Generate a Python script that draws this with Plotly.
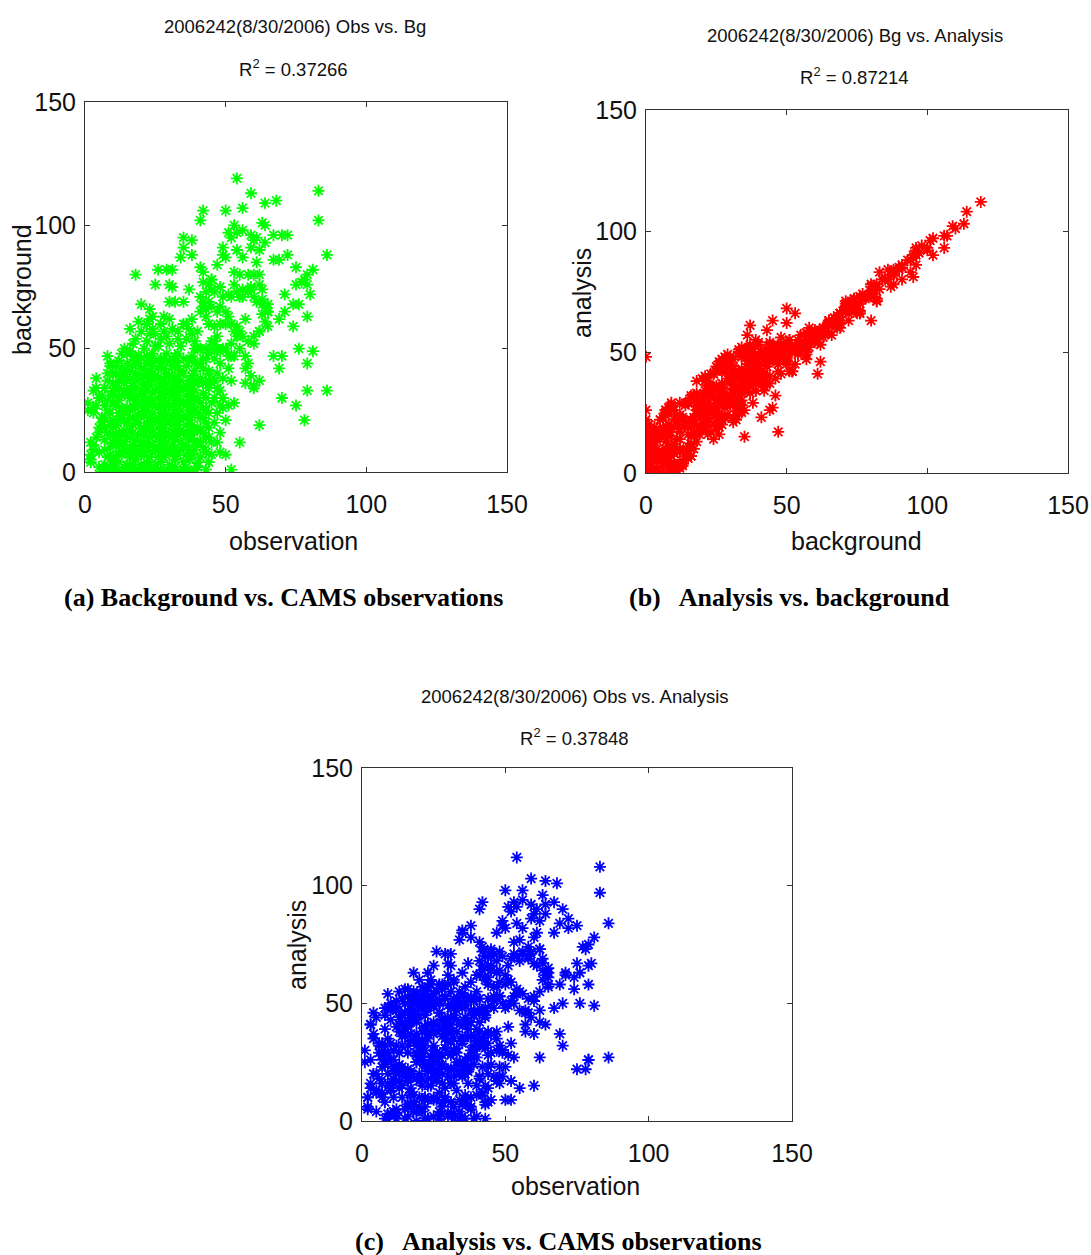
import plotly.graph_objects as go

# ---------------------------------------------------------------
# Station values for 2006242 (8/30/2006): CAMS observation,
# model background and analysis, one entry per station.
# ---------------------------------------------------------------

# high-concentration tail
obs_tail = [
    54, 83, 83, 59, 64, 68, 56, 50, 42, 41,
    63, 64, 53, 56, 54, 59, 61, 60, 67, 70,
    72, 51, 52, 35, 38, 35, 34, 38, 86, 59,
    62, 64, 49, 49, 54, 56, 67, 69, 72, 61,
    47, 50, 18, 26, 29, 31, 41, 42, 75, 81,
    79, 78, 77, 25, 30, 31, 37, 45, 45, 53,
    55, 58, 60, 62, 53, 56, 58, 59, 62, 63,
    80, 79, 75, 71, 63, 65, 65, 74, 76, 79,
    71, 69, 74, 20, 23, 30, 32, 28, 30, 35,
    19, 16, 20, 23, 35, 37, 36, 33, 38, 36,
]
bg_tail = [
    119, 114, 102, 113, 109, 110, 107, 106, 106, 102,
    101, 100, 100, 98, 97, 96, 95, 94, 96, 96,
    96, 97, 95, 95, 94, 91, 87, 88, 88, 91,
    90, 93, 91, 88, 90, 87, 86, 86, 88, 85,
    84, 87, 80, 82, 82, 82, 83, 81, 83, 82,
    80, 78, 77, 76, 76, 75, 74, 78, 74, 81,
    80, 80, 80, 80, 76, 74, 73, 75, 76, 74,
    72, 76, 76, 72, 68, 65, 65, 68, 68, 63,
    65, 62, 59, 68, 66, 69, 69, 63, 62, 69,
    61, 58, 57, 62, 60, 58, 60, 57, 56, 54,
]
ana_tail = [
    112, 108, 97, 103, 102, 101, 98, 98, 93, 90,
    96, 92, 93, 94, 91, 92, 90, 88, 93, 90,
    86, 91, 89, 81, 83, 80, 77, 78, 84, 86,
    85, 88, 85, 83, 84, 82, 80, 84, 82, 80,
    80, 82, 63, 72, 71, 71, 76, 74, 83, 78,
    75, 73, 74, 66, 67, 66, 67, 72, 70, 76,
    77, 74, 78, 73, 71, 72, 70, 71, 73, 69,
    67, 66, 67, 63, 64, 61, 58, 61, 63, 58,
    62, 58, 56, 60, 57, 62, 60, 56, 58, 63,
    54, 56, 49, 53, 54, 52, 57, 50, 52, 49,
]

# mid-range stations and stray low readings
obs_mid = [
    42, 43, 41, 42, 42, 41, 44, 45, 46, 48,
    49, 51, 52, 54, 55, 56, 58, 59, 60, 61,
    63, 65, 64, 63, 65, 65, 62, 60, 60, 58,
    56, 55, 54, 52, 51, 50, 48, 47, 45, 44,
    43, 43, 44, 46, 48, 50, 53, 54, 52, 50,
    49, 47, 45, 43, 41, 51, 53, 55, 57, 58,
    57, 59, 60, 62, 57, 79, 86, 70, 75, 78,
    79, 81, 76, 67, 70, 69, 62, 55, 50, 53,
    51, 48, 48, 47, 52, 51, 43, 45, 48, 50,
    52, 43, 39, 34, 28, 22, 15, 11, 8, 19,
]
bg_mid = [
    77, 73, 71, 69, 67, 65, 76, 78, 73, 75,
    71, 72, 71, 73, 71, 71, 73, 74, 71, 69,
    70, 68, 67, 64, 65, 59, 57, 55, 52, 53,
    55, 57, 59, 60, 63, 65, 67, 65, 67, 69,
    66, 63, 60, 59, 60, 60, 57, 55, 52, 50,
    50, 50, 50, 50, 50, 47, 47, 50, 47, 44,
    42, 39, 34, 37, 36, 33, 33, 30, 27, 21,
    44, 49, 50, 47, 47, 42, 19, 12, 21, 28,
    27, 27, 33, 34, 37, 42, 8, 7, 8, 7,
    1, 1, 1, 0, 0, 0, 1, 0, 0, 1,
]
ana_mid = [
    72, 70, 68, 66, 64, 62, 70, 73, 71, 72,
    70, 66, 69, 70, 68, 71, 69, 72, 67, 66,
    67, 65, 62, 60, 63, 57, 55, 53, 51, 52,
    54, 55, 56, 59, 60, 62, 64, 63, 64, 66,
    61, 60, 58, 57, 59, 58, 53, 54, 51, 48,
    50, 52, 49, 48, 46, 49, 50, 47, 47, 46,
    41, 44, 37, 42, 38, 26, 27, 32, 22, 22,
    26, 49, 50, 48, 50, 37, 27, 14, 23, 27,
    28, 23, 32, 30, 33, 40, 15, 9, 16, 9,
    9, 8, 1, 1, 6, 1, 1, 4, 1, 0,
]

# low observations (0-10) and zero-background stations
obs_edge = [
    1, 1, 2, 3, 2, 4, 3, 9, 11, 15,
    6, 13, 17, 24, 31, 36, 26, 20, 10, 30,
    2, 3, 4, 5, 6, 3, 5, 4, 6, 2,
    4, 5, 3, 6, 5,
    7, 8, 9, 7, 8, 9, 7, 8, 10, 9,
    7, 8, 10, 9, 8, 10, 10, 9, 10, 8,
    7, 9, 10, 7, 10, 9, 7, 10, 8, 9,
]
bg_edge = [
    28, 25, 4, 11, 7, 38, 33, 44, 40, 48,
    0, 0, 0, 0, 1, 0, 1, 0, 1, 0,
    5, 9, 14, 18, 22, 26, 30, 34, 20, 12,
    27, 16, 24, 31, 8,
    3, 6, 10, 13, 16, 19, 22, 25, 28, 31,
    34, 37, 40, 43, 47, 5, 12, 15, 21, 29,
    18, 24, 33, 9, 36, 2, 27, 18, 40, 7,
]
ana_edge = [
    30, 25, 10, 14, 5, 46, 41, 54, 49, 56,
    18, 22, 12, 26, 16, 8, 20, 48, 14, 3,
    6, 26, 20, 13, 33, 16, 44, 37, 29, 10,
    35, 12, 41, 32, 20,
    16, 8, 3, 23, 32, 16, 29, 24, 48, 35,
    28, 48, 43, 48, 45, 14, 3, 29, 26, 29,
    26, 20, 50, 10, 48, 1, 33, 33, 39, 26,
]

# stations with near-zero background
obs_floor = [7, 12, 14, 18, 21, 23, 27, 29, 32, 35, 38, 40, 44, 16, 25, 5, 10]
bg_floor = [1, 0, 2, 1, 0, 3, 1, 0, 2, 1, 0, 2, 4, 3, 0, 2, 3]
ana_floor = [12, 3, 15, 7, 18, 9, 2, 14, 6, 20, 5, 11, 8, 17, 10, 4, 13]

# bulk of the network, observations 10-20
obs_core_a = [
    11, 12, 13, 14, 11, 12, 13, 14, 11, 12,
    13, 14, 11, 12, 13, 14, 11, 12, 13, 14,
    11, 12, 13, 14, 15, 15, 15, 15, 15, 15,
    15, 15, 12, 13, 14, 11, 12, 13, 14, 11,
    12, 13, 14, 11, 12,
    16, 17, 18, 19, 16, 17, 18, 19, 16, 17,
    18, 19, 16, 17, 18, 19, 16, 17, 18, 19,
    16, 17, 18, 19, 16, 17, 18, 20, 20, 20,
    20, 20, 20, 20, 20, 20, 20, 16, 17, 18,
    19, 16, 17, 18, 19, 16, 17, 18, 19, 16,
    17, 18, 19, 16, 17,
]
bg_core_a = [
    2, 4, 7, 9, 11, 13, 15, 17, 19, 21,
    23, 25, 27, 29, 31, 33, 35, 37, 39, 41,
    43, 45, 48, 50, 3, 8, 14, 20, 26, 32,
    38, 44, 16, 26, 12, 31, 34, 11, 36, 6,
    24, 42, 21, 15, 8,
    1, 3, 5, 7, 9, 11, 13, 15, 17, 19,
    21, 23, 25, 27, 29, 31, 33, 35, 37, 39,
    41, 43, 45, 47, 49, 52, 54, 3, 8, 12,
    18, 24, 28, 33, 38, 42, 46, 14, 22, 26,
    10, 30, 8, 34, 20, 38, 16, 40, 27, 6,
    31, 9, 44, 22, 47,
]
ana_core_a = [
    10, 1, 24, 10, 23, 5, 21, 32, 18, 40,
    17, 36, 30, 47, 29, 42, 26, 51, 44, 41,
    48, 47, 41, 52, 19, 5, 21, 19, 46, 36,
    39, 50, 22, 21, 23, 21, 48, 14, 45, 4,
    32, 38, 38, 16, 20,
    2, 14, 8, 25, 7, 20, 4, 29, 22, 19,
    34, 25, 18, 37, 45, 28, 40, 34, 47, 43,
    42, 49, 51, 42, 53, 42, 55, 6, 17, 10,
    26, 20, 45, 34, 50, 34, 52, 29, 21, 45,
    4, 41, 11, 52, 18, 47, 7, 54, 32, 6,
    44, 11, 37, 32, 52,
]

# bulk of the network, observations 20-30
obs_core_b = [
    21, 22, 23, 24, 21, 22, 23, 24, 21, 22,
    23, 24, 21, 22, 23, 24, 21, 22, 23, 24,
    21, 22, 23, 24, 21, 22, 23, 24, 25, 25,
    25, 25, 25, 25, 25, 25, 25, 21, 22, 23,
    24, 21, 22, 23, 24, 21, 22, 23, 24, 21,
    22, 23, 24, 21, 22, 23, 24, 21, 22, 23,
    26, 27, 28, 29, 26, 27, 28, 29, 26, 27,
    28, 29, 26, 27, 28, 29, 26, 27, 28, 29,
    26, 27, 28, 29, 26, 27, 28, 30, 30, 30,
    30, 30, 30, 30, 30, 30, 26, 27, 28, 29,
    26, 27, 28, 29, 26, 27, 28, 29, 26, 27,
    28, 29, 26, 27, 28,
]
bg_core_b = [
    2, 4, 6, 8, 10, 12, 14, 16, 18, 20,
    22, 24, 26, 28, 30, 32, 34, 36, 38, 40,
    42, 44, 46, 48, 50, 53, 56, 58, 3, 9,
    15, 21, 27, 33, 39, 45, 51, 15, 25, 35,
    11, 31, 17, 27, 37, 7, 33, 19, 29, 23,
    9, 41, 21, 39, 47, 11, 43, 28, 39, 17,
    1, 4, 6, 8, 10, 12, 14, 16, 18, 20,
    22, 24, 26, 28, 30, 32, 34, 36, 38, 40,
    42, 44, 46, 48, 51, 54, 57, 3, 9, 15,
    21, 27, 33, 39, 45, 52, 14, 24, 34, 12,
    30, 16, 26, 36, 6, 32, 18, 28, 22, 8,
    42, 20, 38, 46, 10,
]
ana_core_b = [
    15, 6, 1, 18, 26, 9, 21, 15, 38, 24,
    23, 41, 32, 23, 41, 22, 48, 39, 47, 38,
    50, 40, 52, 49, 54, 45, 57, 60, 2, 28,
    9, 32, 30, 51, 37, 49, 42, 29, 30, 35,
    24, 33, 10, 37, 53, 4, 40, 18, 49, 27,
    10, 50, 27, 34, 52, 1, 49, 31, 48, 15,
    9, 1, 23, 9, 22, 4, 20, 31, 17, 39,
    16, 35, 29, 46, 28, 41, 25, 50, 43, 40,
    50, 46, 39, 53, 55, 51, 58, 2, 29, 19,
    22, 44, 39, 34, 49, 42, 28, 27, 43, 10,
    38, 12, 43, 37, 18, 24, 24, 43, 21, 27,
    36, 31, 41, 51, 8,
]

# bulk of the network, observations 30-50
obs_core_c = [
    31, 32, 33, 34, 31, 32, 33, 34, 31, 32,
    33, 34, 31, 32, 33, 34, 31, 32, 33, 34,
    31, 32, 33, 34, 35, 35, 35, 35, 35, 35,
    35, 35, 31, 32, 33, 34, 31, 32, 33, 34,
    31, 32, 33, 34, 31, 32, 33, 34, 31, 32,
    36, 37, 38, 39, 36, 37, 38, 39, 36, 37,
    38, 39, 36, 37, 38, 39, 36, 37, 38, 39,
    36, 37, 38, 39, 40, 40, 40, 40, 40, 40,
    40, 36, 37, 38, 39, 36, 37, 38, 39, 36,
    37, 38, 39, 36, 37,
    41, 42, 43, 44, 41, 42, 43, 44, 41, 42,
    43, 44, 41, 42, 43, 44, 41, 42, 43, 44,
    41, 45, 45, 45, 42, 43, 44, 41, 42, 43,
    46, 47, 48, 46, 47, 48, 49, 46, 47, 49,
    46, 48, 49, 47, 46,
]
bg_core_c = [
    2, 5, 7, 9, 11, 13, 15, 17, 19, 21,
    23, 25, 27, 29, 31, 33, 35, 37, 39, 41,
    43, 45, 48, 51, 4, 10, 16, 22, 28, 34,
    40, 46, 15, 25, 35, 12, 31, 17, 27, 37,
    7, 33, 19, 29, 23, 9, 43, 21, 39, 47,
    2, 5, 7, 9, 11, 13, 15, 17, 19, 21,
    23, 25, 27, 29, 31, 33, 35, 37, 39, 41,
    43, 45, 47, 50, 4, 12, 18, 24, 30, 36,
    44, 15, 25, 35, 12, 31, 17, 27, 37, 7,
    33, 19, 29, 23, 9,
    6, 10, 14, 18, 22, 26, 30, 34, 38, 42,
    46, 48, 12, 16, 20, 24, 28, 32, 36, 40,
    44, 28, 12, 36, 22, 8, 14, 17, 36, 25,
    20, 24, 16, 30, 40, 44, 38, 46, 12, 30,
    37, 49, 26, 55, 53,
]
ana_core_c = [
    3, 22, 13, 4, 22, 3, 29, 20, 28, 19,
    31, 21, 44, 30, 43, 25, 41, 52, 38, 50,
    37, 49, 51, 55, 2, 19, 7, 36, 33, 34,
    53, 48, 8, 35, 51, 9, 38, 16, 47, 41,
    8, 50, 25, 24, 34, 1, 49, 24, 48, 45,
    1, 16, 10, 27, 9, 22, 6, 31, 24, 21,
    36, 27, 20, 39, 47, 30, 42, 36, 47, 45,
    44, 51, 53, 45, 15, 2, 32, 27, 39, 34,
    52, 11, 42, 36, 24, 23, 23, 42, 36, 26,
    27, 30, 32, 41, 7,
    19, 12, 7, 28, 38, 23, 37, 33, 48, 46,
    47, 52, 18, 11, 31, 14, 42, 35, 45, 38,
    52, 24, 29, 37, 34, 1, 20, 32, 35, 44,
    19, 35, 19, 48, 38, 53, 29, 51, 17, 30,
    37, 53, 19, 57, 53,
]

# remaining stations
obs_extra = [
    25, 27, 29, 31, 33, 22, 24, 38, 40, 39,
    60, 42, 38, 44, 52, 44, 21, 13, 23, 32,
    47, 45, 40, 64, 57, 62,
]
bg_extra = [
    56, 60, 55, 58, 54, 60, 63, 62, 57, 53,
    35, 46, 45, 41, 47, 37, 36, 39, 45, 43,
    50, 53, 50, 61, 62, 57,
]
ana_extra = [
    54, 58, 52, 55, 50, 55, 58, 59, 55, 51,
    15, 32, 27, 23, 17, 61, 57, 55, 63, 59,
    68, 66, 62, 41, 46, 47,
]

observation = (obs_tail + obs_mid + obs_edge + obs_floor + obs_core_a
               + obs_core_b + obs_core_c + obs_extra)
background = (bg_tail + bg_mid + bg_edge + bg_floor + bg_core_a
              + bg_core_b + bg_core_c + bg_extra)
analysis = (ana_tail + ana_mid + ana_edge + ana_floor + ana_core_a
            + ana_core_b + ana_core_c + ana_extra)
assert len(observation) == len(background) == len(analysis), (
    len(observation), len(background), len(analysis))

AXIS_TICKS = [0, 50, 100, 150]
R2_VALUES = ["0.37266", "0.87214", "0.37848"]

# ---------------------------------------------------------------
# layout helpers (pixel positions on a 1091 x 1255 page)
# ---------------------------------------------------------------
W, H = 1091, 1255
SANS = "Liberation Sans, Arial, Helvetica, sans-serif"
SERIF = "Liberation Serif, Times New Roman, serif"


def fx(p):
    return p / W


def fy(p):
    return 1 - p / H


panels = [
    dict(x=observation, y=background, color="#00ff00",
         xpx=(85, 507), ypx=(102, 472),
         xlabel="observation", ylabel="background",
         xlab_pos=(293, 541), ylab_pos=(22, 290),
         title="2006242(8/30/2006) Obs vs. Bg", r2=R2_VALUES[0],
         title_pos=(295, 26), r2_pos=(293, 68)),
    dict(x=background, y=analysis, color="#ff0000",
         xpx=(646, 1068), ypx=(110, 473),
         xlabel="background", ylabel="analysis",
         xlab_pos=(856, 541), ylab_pos=(582, 293),
         title="2006242(8/30/2006) Bg vs. Analysis", r2=R2_VALUES[1],
         title_pos=(855, 36), r2_pos=(854, 76)),
    dict(x=observation, y=analysis, color="#0000ff",
         xpx=(362, 792), ypx=(768, 1121),
         xlabel="observation", ylabel="analysis",
         xlab_pos=(575, 1186), ylab_pos=(297, 945),
         title="2006242(8/30/2006) Obs vs. Analysis", r2=R2_VALUES[2],
         title_pos=(575, 696), r2_pos=(574, 737)),
]

captions = [
    ("(a) Background vs. CAMS observations", 283, 597),
    ("(b)\u00a0\u00a0 Analysis vs. background", 789, 597),
    ("(c)\u00a0\u00a0 Analysis vs. CAMS observations", 558, 1241),
]

fig = go.Figure()
annotations = []
layout_axes = {}

for i, p in enumerate(panels, start=1):
    xa = "x" if i == 1 else f"x{i}"
    ya = "y" if i == 1 else f"y{i}"
    fig.add_trace(go.Scatter(
        x=p["x"], y=p["y"], mode="markers", xaxis=xa, yaxis=ya,
        showlegend=False, hoverinfo="skip",
        marker=dict(symbol="asterisk-open", size=10, color=p["color"],
                    line=dict(color=p["color"], width=1.8)),
    ))

    common = dict(
        range=[0, 150], tickmode="array", tickvals=AXIS_TICKS,
        ticktext=[str(t) for t in AXIS_TICKS],
        ticks="inside", ticklen=5, tickwidth=1, tickcolor="#333",
        showline=True, linecolor="#333", linewidth=1, mirror="ticks",
        showgrid=False, zeroline=False, fixedrange=True, automargin=False,
        tickfont=dict(family=SANS, size=25, color="#111"),
    )
    layout_axes["xaxis" if i == 1 else f"xaxis{i}"] = dict(
        common, domain=[fx(p["xpx"][0]), fx(p["xpx"][1])],
        anchor=ya, ticklabelstandoff=10)
    layout_axes["yaxis" if i == 1 else f"yaxis{i}"] = dict(
        common, domain=[fy(p["ypx"][1]), fy(p["ypx"][0])],
        anchor=xa, ticklabelstandoff=3)

    annotations += [
        dict(text=p["title"], x=fx(p["title_pos"][0]), y=fy(p["title_pos"][1]),
             font=dict(family=SANS, size=18.5, color="#111")),
        dict(text=f"R<sup>2</sup> = {p['r2']}", x=fx(p["r2_pos"][0]),
             y=fy(p["r2_pos"][1]),
             font=dict(family=SANS, size=18.5, color="#111")),
        dict(text=p["xlabel"], x=fx(p["xlab_pos"][0]), y=fy(p["xlab_pos"][1]),
             font=dict(family=SANS, size=25, color="#111")),
        dict(text=p["ylabel"], x=fx(p["ylab_pos"][0]), y=fy(p["ylab_pos"][1]),
             textangle=-90, font=dict(family=SANS, size=25, color="#111")),
    ]

for text, cx, cy in captions:
    annotations.append(dict(
        text=f"<b>{text}</b>", x=fx(cx), y=fy(cy),
        font=dict(family=SERIF, size=26, color="#000")))

for a in annotations:
    a.update(xref="paper", yref="paper", xanchor="center", yanchor="middle",
             showarrow=False)

fig.update_layout(
    width=W, height=H, margin=dict(l=0, r=0, t=0, b=0, autoexpand=False),
    paper_bgcolor="white", plot_bgcolor="white",
    annotations=annotations, **layout_axes,
)

fig.write_html("out.html", config={"displayModeBar": False})
